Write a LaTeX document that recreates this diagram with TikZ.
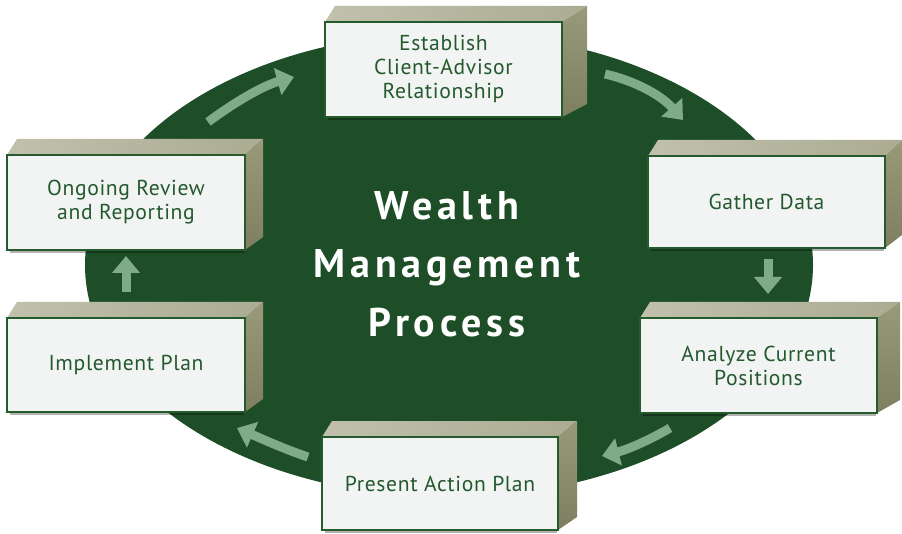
\documentclass[tikz,border=0pt]{standalone}
\usepackage{fontspec}
\setmainfont{PT Sans}
\newfontfamily\boxfont[LetterSpace=3]{PT Sans}
\newfontfamily\titlefont[LetterSpace=12]{PT Sans}
\usetikzlibrary{arrows.meta}
\definecolor{ellgreen}{HTML}{1E4E28}
\definecolor{arrowc}{HTML}{7FAB86}
\definecolor{boxborder}{HTML}{245A2C}
\definecolor{textgreen}{HTML}{24592D}
\definecolor{frontfill}{HTML}{F2F4F3}
\definecolor{topL}{HTML}{C0C0AD}
\definecolor{topM}{HTML}{D0D0C4}
\definecolor{topR}{HTML}{ABAC92}
\definecolor{sideT}{HTML}{999A7A}
\definecolor{sideB}{HTML}{7E7F60}
\tikzset{
 frontbox/.style={draw=boxborder, line width=2.5pt, fill=frontfill, inner sep=0pt, align=center, text=textgreen, font=\boxfont\fontsize{21.6}{24}\selectfont},
 topface/.style={left color=topL, middle color=topM, right color=topR},
 sideface/.style={top color=sideT, bottom color=sideB},
 flowarrow/.style={draw=arrowc, line width=9pt, -{Triangle[width=27pt,length=17pt]}},
 titletext/.style={text=white, font=\titlefont\bfseries\fontsize{40}{46}\selectfont, anchor=base, inner sep=0pt},
}
\newcommand{\wmbox}[7]{%
 \fill[black, opacity=.3] (#2+3,#5-2) rectangle (#4-1,#5+3);
 \shade[topface] (#2,#3) -- (#2+10,#3-16) -- (#4+#6,#3-16) -- (#4,#3) -- cycle;
 \shade[sideface] (#4,#3) -- (#4+#6,#3-16) -- (#4+#6,#5-13) -- (#4,#5) -- cycle;
 \node[frontbox, minimum width={#4-#2}, minimum height={#5-#3}] (#1) at ({(#2+#4)/2},{(#3+#5)/2}) {#7};
}
\begin{document}
\begin{tikzpicture}[x=1pt,y=-1pt]
\useasboundingbox (0,0) rectangle (902,534);
\fill[ellgreen] (449,265) ellipse [x radius=364pt, y radius=232pt];
% arrows
\coordinate (a1s) at (208,122); \coordinate (a1e) at (294,77);
\coordinate (a2s) at (605,74);  \coordinate (a2e) at (683,120);
\coordinate (a3s) at (768,259); \coordinate (a3e) at (768,294);
\coordinate (a4s) at (670,428); \coordinate (a4e) at (602,456);
\coordinate (a5s) at (308,457); \coordinate (a5e) at (237,428);
\coordinate (a6s) at (126,292); \coordinate (a6e) at (126,256);
\draw[flowarrow] (a1s) .. controls (232,104) and (262,86) .. (a1e);
\draw[flowarrow] (a2s) .. controls (632,80) and (660,94) .. (a2e);
\draw[flowarrow] (a3s) -- (a3e);
\draw[flowarrow] (a4s) .. controls (648,441) and (626,450) .. (a4e);
\draw[flowarrow] (a5s) .. controls (284,449) and (260,438) .. (a5e);
\draw[flowarrow] (a6s) -- (a6e);
% boxes
\wmbox{establish}{325}{22}{562}{117}{25}{Establish\\Client-Advisor\\Relationship}
\wmbox{gather}{648}{156}{885}{248}{17}{Gather Data}
\wmbox{analyze}{640}{318}{877}{413}{23}{Analyze Current\\Positions}
\wmbox{present}{322}{437}{558}{530}{19}{Present Action Plan}
\wmbox{implement}{7}{318}{245}{412}{18}{Implement Plan}
\wmbox{ongoing}{7}{155}{245}{250}{18}{Ongoing Review\\and Reporting}
% title
\node[titletext] (t1) at (447,220) {Wealth};
\node[titletext] (t2) at (447,278) {Management};
\node[titletext] (t3) at (447,337) {Process};
\end{tikzpicture}
\end{document}
